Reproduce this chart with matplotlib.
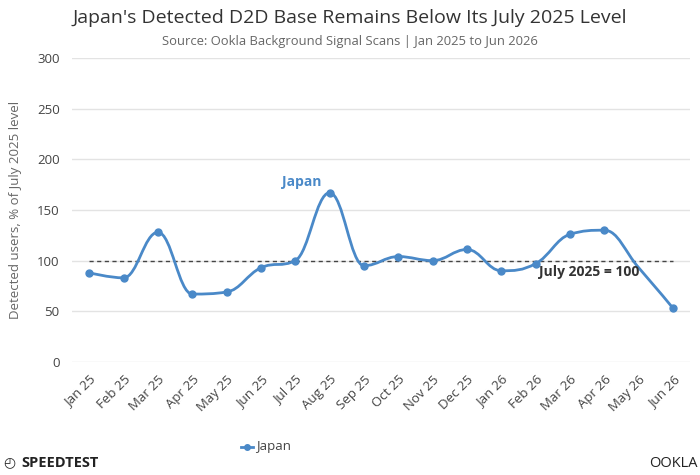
import numpy as np
import matplotlib
matplotlib.use("Agg")
import matplotlib.pyplot as plt
from matplotlib.path import Path
from matplotlib.patches import PathPatch

plt.rcParams['font.family'] = ['Open Sans', 'DejaVu Sans']

months = ["Jan 25", "Feb 25", "Mar 25", "Apr 25", "May 25", "Jun 25", "Jul 25",
          "Aug 25", "Sep 25", "Oct 25", "Nov 25", "Dec 25", "Jan 26", "Feb 26",
          "Mar 26", "Apr 26", "May 26", "Jun 26"]
japan = [88, 83, 128, 67, 69, 93, 100, 167, 95, 104, 100, 111, 90, 97, 126, 130, 93, 53]
marked = [True] * 16 + [False, True]
baseline = 100
yticks = [0, 50, 100, 150, 200, 250, 300]

BLUE = "#4a89c8"


def spline_path(xs, ys):
    # highcharts-style spline, smoothing 1.5
    sm, den = 1.5, 2.5
    n = len(xs)
    verts = [(xs[0], ys[0])]
    codes = [Path.MOVETO]
    right = [None] * n
    for i in range(1, n):
        px, py = xs[i], ys[i]
        lc = (px, py)
        if i < n - 1:
            lx, ly = xs[i - 1], ys[i - 1]
            nx, ny = xs[i + 1], ys[i + 1]
            lcx = (sm * px + lx) / den
            lcy = (sm * py + ly) / den
            rcx = (sm * px + nx) / den
            rcy = (sm * py + ny) / den
            corr = 0
            if rcx != lcx:
                corr = (rcy - lcy) * (rcx - px) / (rcx - lcx) + py - rcy
            lcy += corr
            rcy += corr
            if lcy > ly and lcy > py:
                lcy = max(ly, py)
                rcy = 2 * py - lcy
            elif lcy < ly and lcy < py:
                lcy = min(ly, py)
                rcy = 2 * py - lcy
            if rcy > ny and rcy > py:
                rcy = max(ny, py)
                lcy = 2 * py - rcy
            elif rcy < ny and rcy < py:
                rcy = min(ny, py)
                lcy = 2 * py - rcy
            right[i] = (rcx, rcy)
            lc = (lcx, lcy)
        prev = right[i - 1] if right[i - 1] is not None else (xs[i - 1], ys[i - 1])
        verts += [prev, lc, (px, py)]
        codes += [Path.CURVE4] * 3
    return Path(verts, codes)


fig = plt.figure(figsize=(7, 4.75), dpi=100)
ax = fig.add_axes([0.103, 0.238, 0.883, 0.64])

x = np.arange(len(months))
ax.add_patch(PathPatch(spline_path(list(x), japan), facecolor="none",
                       edgecolor=BLUE, lw=2.0, zorder=3, capstyle="round"))
mx = [xi for xi, m in zip(x, marked) if m]
my = [yi for yi, m in zip(japan, marked) if m]
ax.plot(mx, my, "o", color=BLUE, ms=5, zorder=4)

ax.plot([0, len(months) - 1], [baseline, baseline], ls=(0, (3, 2.5)),
        color="#444444", lw=1.0, zorder=2)
ax.text(14.55, 88.5, "July 2025 = 100", ha="center", va="center",
        fontsize=10, fontweight="bold", color="#333333", zorder=5)
ax.text(6.2, 177.5, "Japan", ha="center", va="center",
        fontsize=10, fontweight="bold", color=BLUE)

ax.set_xlim(-0.5, len(months) - 0.5)
ax.set_ylim(0, 300)
ax.set_yticks(yticks)
ax.set_xticks(x)
ax.set_xticklabels(months, rotation=45, ha="right", rotation_mode="anchor")
ax.tick_params(axis="both", length=0, labelsize=9.5, colors="#444444")
ax.tick_params(axis="x", pad=8)
ax.tick_params(axis="y", pad=9)
ax.grid(axis="y", color="#e3e3e3", lw=1)
ax.set_axisbelow(True)
for s in ax.spines.values():
    s.set_visible(False)
ax.set_ylabel("Detected users, % of July 2025 level", fontsize=9.5,
              color="#666666")
ax.yaxis.set_label_coords(-0.081, 0.5)

fig.text(0.5, 0.962, "Japan's Detected D2D Base Remains Below Its July 2025 Level",
         ha="center", va="center", fontsize=14, color="#333333")
fig.text(0.5, 0.912, "Source: Ookla Background Signal Scans | Jan 2025 to Jun 2026",
         ha="center", va="center", fontsize=9.4, color="#666666")

# legend
fig.lines.append(plt.Line2D([0.344, 0.362], [0.059, 0.059], color=BLUE, lw=2,
                            transform=fig.transFigure))
fig.lines.append(plt.Line2D([0.353], [0.059], marker="o", ms=4, color=BLUE,
                            transform=fig.transFigure))
fig.text(0.366, 0.059, "Japan", ha="left", va="center", fontsize=9.5, color="#444444")

# footer logos
fig.text(0.004, 0.025, "\u25f4", ha="left", va="center", fontsize=10, color="#222222",
         family=["DejaVu Sans"])
fig.text(0.03, 0.025, "SPEEDTEST", ha="left", va="center", fontsize=10.5,
         fontweight="bold", color="#222222")
fig.text(0.997, 0.025, "OOKLA", ha="right", va="center", fontsize=10.5,
         color="#222222")

fig.savefig("out.png", dpi=100)
